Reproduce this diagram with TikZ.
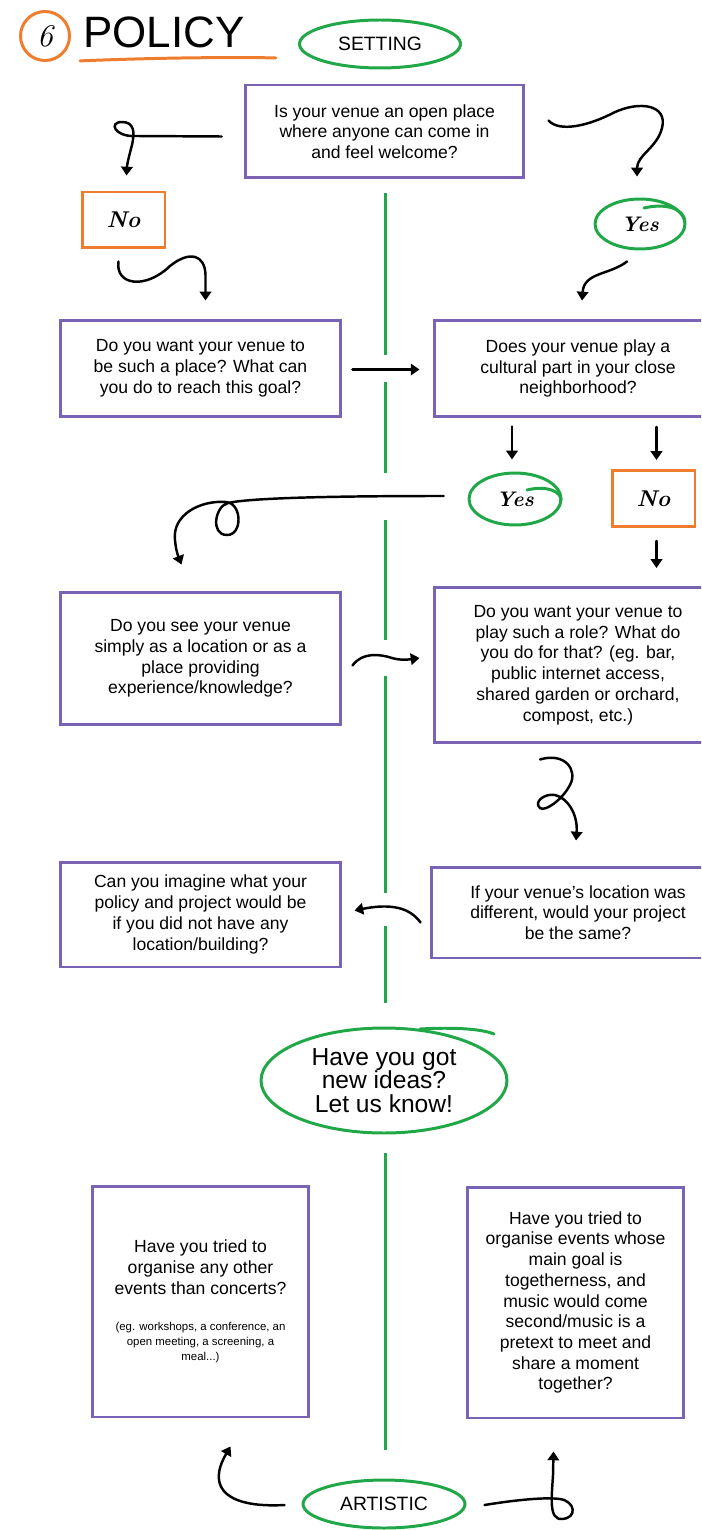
\documentclass[tikz,border=0pt]{standalone}
\usepackage{fontspec}
\newfontfamily\qfont{Liberation Sans}
\usetikzlibrary{shapes.geometric,arrows.meta,calc}

\definecolor{qpurple}{RGB}{122,98,181}
\definecolor{tgreen}{RGB}{32,168,72}
\definecolor{norange}{RGB}{240,124,46}
\newcommand{\fineprint}{\fontsize{6.5}{8.5}\selectfont}

\begin{document}
\begin{tikzpicture}[
    x=0.02cm, y=-0.02cm,
    question/.style = {rectangle, draw=qpurple, line width=1.7pt, align=center, font=\qfont\fontsize{10}{11.8}\selectfont},
    answerno/.style = {rectangle, draw=norange, line width=1.7pt, minimum width=1.66cm, minimum height=1.12cm, font=\bfseries\itshape\fontsize{13}{14}\selectfont},
    answeryes/.style = {ellipse, draw=tgreen, line width=1.7pt, inner sep=0pt, font=\bfseries\itshape\fontsize{12}{14}\selectfont},
    theme/.style = {ellipse, draw=tgreen, line width=1.7pt, inner sep=0pt, align=center},
    curly/.style = {-{Triangle[length=5pt,width=6.5pt]}, line width=1.4pt, line cap=round},
    spine/.style = {tgreen, line width=1.7pt},
    tail/.style = {tgreen, line width=1.7pt, line cap=round}
]
    \useasboundingbox (0,0) rectangle (701,1530);
    \fill[white] (0,0) rectangle (701,1530);
    \clip (0,0) rectangle (701,1530);

    % title
    \node[circle, draw=norange, line width=1.7pt, minimum size=0.98cm, inner sep=0pt, font=\itshape\fontsize{18}{20}\selectfont] (num) at (45,36) {6};
    \node[anchor=west, inner sep=0pt, font=\qfont\fontsize{25}{28}\selectfont] (title) at (83,32) {POLICY};
    \draw[norange, line width=1.7pt, line cap=round] ($(title.south west)+(-3,13)$) .. controls (150,58) and (220,57) .. ($(title.south east)+(31,10)$);
    \node[theme, minimum width=3.22cm, minimum height=0.96cm, font=\qfont\fontsize{11}{13}\selectfont] (setting) at (380,44) {SETTING};

    % green spine
    \foreach \a/\b in {193/355, 382/473, 520/640, 676/893, 926/1003, 1153/1450}
        \draw[spine] (385,\a) -- (385,\b);

    % questions
    \node[question, minimum width=5.58cm, minimum height=1.86cm] (open) at (384.5,131.5) {Is your venue an open place\\where anyone can come in\\and feel welcome?};
    \node[answerno] (no1) at (123.5,220) {No};
    \node[answeryes, minimum width=1.8cm, minimum height=1cm] (yes1) at (640,224) {Yes};
    \node[question, minimum width=5.62cm, minimum height=1.94cm] (want) at (200.5,368.5) {Do you want your venue to\\be such a place? What can\\you do to reach this goal?};
    \node[question, minimum width=5.76cm, minimum height=1.94cm] (cultural) at (578,368.5) {Does your venue play a\\cultural part in your close\\neighborhood?};
    \node[answeryes, minimum width=1.84cm, minimum height=1.04cm] (yes2) at (515,499) {Yes};
    \node[answerno] (no2) at (653.5,498.5) {No};
    \node[question, minimum width=5.62cm, minimum height=2.66cm] (see) at (200.5,658.5) {Do you see your venue\\simply as a location or as a\\place providing\\experience/knowledge?};
    \node[question, minimum width=5.76cm, minimum height=3.12cm] (role) at (578,665) {Do you want your venue to\\play such a role? What do\\you do for that? (eg. bar,\\public internet access,\\shared garden or orchard,\\compost, etc.)};
    \node[question, minimum width=5.88cm, minimum height=1.82cm] (same) at (578,912.5) {If your venue’s location was\\different, would your project\\be the same?};
    \node[question, minimum width=5.62cm, minimum height=2.1cm] (imagine) at (200.5,914.5) {Can you imagine what your\\policy and project would be\\if you did not have any\\location/building?};

    \node[theme, minimum width=4.92cm, minimum height=2.1cm, font=\qfont\fontsize{14}{13.2}\selectfont] (ideas) at (384,1080.5) {Have you got\\new ideas?\\Let us know!};

    \node[question, minimum width=4.34cm, minimum height=4.62cm] (other) at (200.5,1301.5) {Have you tried to\\organise any other\\events than concerts?\\[9pt]\fineprint (eg. workshops, a conference, an\\[-3.3pt]\fineprint open meeting, a screening, a\\[-3.3pt]\fineprint meal...)};
    \node[question, minimum width=4.34cm, minimum height=4.62cm] (together) at (575.5,1302.5) {Have you tried to\\organise events whose\\main goal is\\togetherness, and\\music would come\\second/music is a\\pretext to meet and\\share a moment\\together?};
    \node[theme, minimum width=3.24cm, minimum height=0.96cm, font=\qfont\fontsize{11}{13}\selectfont] (artistic) at (384,1504) {ARTISTIC};

    % hand drawn ends of the rings
    \draw[tail] (644,208) .. controls (665,203) and (684,208) .. (685,222);
    \draw[tail] (527,490) .. controls (548,485) and (561,492) .. (561,500);
    \draw[tail] (420,1029) .. controls (455,1027) and (482,1029) .. (494,1034);

    % arrows
    \draw[curly] ($(open.west)+(-22,5)$) -- (135,136) .. controls (115,137) and (108,122) .. (122,122) .. controls (134,122) and (135,132) .. (132,145) .. controls (129,156) and (127,165) .. ($(no1.north)+(3,-15)$);
    \draw[curly] ($(open.east)+(23,-11)$) .. controls (560,133) and (590,125) .. (613,113) .. controls (640,100) and (668,105) .. (662,128) .. controls (657,148) and (637,155) .. ($(yes1.north)+(-3,-21)$);
    \draw[curly] ($(no1.south)+(-5,12)$) .. controls (115,285) and (145,290) .. (170,266) .. controls (190,250) and (205,255) .. (205.5,275) -- ($(want.north)+(5,-18)$);
    \draw[curly] ($(yes1.south)+(-13,11)$) .. controls (610,275) and (584,272) .. ($(cultural.north)+(4,-18)$);
    \draw[curly] ($(want.east)+(10,1)$) -- ($(cultural.west)+(-13,1)$);
    \draw[curly] ($(yes2.north)+(-3,-45)$) -- ($(yes2.north)+(-3,-12)$);
    \draw[curly] ($(no2.north)+(3,-42)$) -- ($(no2.north)+(3,-9)$);
    \draw[curly] ($(no2.south)+(3,13)$) -- ($(no2.south)+(3,40)$);
    \draw[curly] ($(yes2.west)+(-24,-3)$) .. controls (330,496) and (250,498) .. (228,503) .. controls (215,506) and (210,535) .. (227,535) .. controls (243,535) and (242,503) .. (226,502) .. controls (200,500) and (172,515) .. (175,540) .. controls (176,552) and (179,558) .. ($(see.north)+(-19,-26)$);
    \draw[curly] ($(see.east)+(10,7)$) .. controls (362,652) and (380,654) .. (392,658) .. controls (402,661) and (412,659) .. ($(role.west)+(-13,-7)$);
    \draw[curly] ($(role.south)+(-38,15)$) .. controls (565,752) and (578,770) .. (570,785) .. controls (562,800) and (545,812) .. (540,808) .. controls (533,802) and (545,793) .. (555,795) .. controls (568,798) and (578,815) .. ($(same.north)+(-2,-25)$);
    \draw[curly] ($(same.west)+(-9,10)$) .. controls (410,908) and (392,903) .. ($(imagine.east)+(12,-4)$);
    \draw[curly] ($(artistic.west)+(-17,1)$) .. controls (230,1508) and (205,1490) .. ($(other.south)+(30,28)$);
    \draw[curly] ($(artistic.east)+(18,1)$) .. controls (515,1500) and (545,1497) .. (560,1499) .. controls (575,1501) and (578,1518) .. (562,1519) .. controls (548,1520) and (552,1495) .. (553,1475) -- ($(together.south)+(-22,32)$);
\end{tikzpicture}
\end{document}
